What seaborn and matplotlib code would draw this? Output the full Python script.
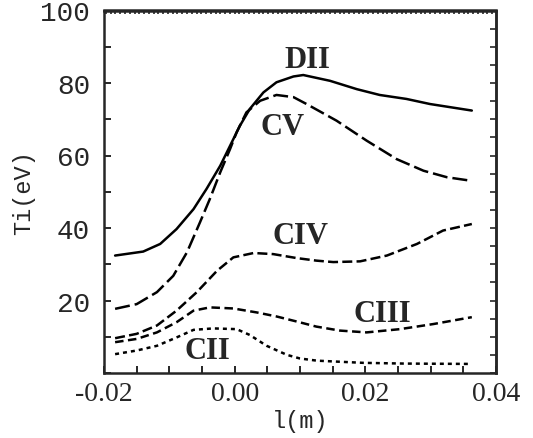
import numpy as np
import pandas as pd
import seaborn as sns
import matplotlib
matplotlib.use('Agg')
import matplotlib.pyplot as plt
from matplotlib.ticker import MultipleLocator, FixedLocator

# values, l in m, Ti in eV
l_DII = [-0.0183, -0.0140, -0.0114, -0.0089, -0.0063, -0.0043, -0.0022, -0.0007, 0.0008,
         0.0023, 0.0044, 0.0064, 0.0090, 0.0105, 0.0146, 0.0187, 0.0222, 0.0263, 0.0299, 0.0363]
ti_DII = [32.4, 33.5, 35.6, 39.7, 45.2, 50.8, 57.2, 62.7, 68.2,
          72.8, 77.4, 80.2, 81.8, 82.2, 80.6, 78.3, 76.7, 75.6, 74.2, 72.4]

l_CV = [-0.0183, -0.0150, -0.0119, -0.0094, -0.0073, -0.0053, -0.0038, -0.0022, -0.0007,
        0.0003, 0.0018, 0.0039, 0.0064, 0.0090, 0.0110, 0.0156, 0.0202, 0.0248, 0.0289, 0.0325, 0.0363]
ti_CV = [17.7, 19.0, 22.3, 26.8, 33.3, 41.6, 48.0, 55.4, 61.8,
         66.4, 71.9, 75.1, 76.7, 76.1, 74.2, 69.6, 64.1, 59.0, 55.8, 54.0, 53.0]

l_CIV = [-0.0183, -0.0150, -0.0119, -0.0089, -0.0058, -0.0027, -0.0002, 0.0029, 0.0059,
         0.0095, 0.0125, 0.0151, 0.0192, 0.0233, 0.0279, 0.0319, 0.0363]
ti_CIV = [9.6, 10.8, 13.1, 17.2, 22.3, 28.2, 31.9, 33.1, 32.8,
          31.7, 31.0, 30.6, 30.8, 32.4, 35.6, 39.3, 41.1]

l_CIII = [-0.0183, -0.0150, -0.0119, -0.0089, -0.0063, -0.0038, -0.0002, 0.0034, 0.0064,
          0.0095, 0.0125, 0.0161, 0.0202, 0.0253, 0.0304, 0.0363]
ti_CIII = [8.5, 9.4, 11.2, 14.0, 17.2, 18.1, 17.8, 16.7, 15.6,
           14.2, 12.8, 11.7, 11.2, 12.1, 13.5, 15.4]

l_CII = [-0.0183, -0.0150, -0.0119, -0.0089, -0.0063, -0.0033, 0.0003, 0.0023, 0.0049,
         0.0080, 0.0100, 0.0126, 0.0197, 0.0260, 0.0363]
ti_CII = [5.2, 6.2, 7.5, 9.8, 11.9, 12.3, 12.1, 10.5, 7.5,
          5.0, 4.0, 3.4, 2.8, 2.6, 2.5]

names = ['DII', 'CV', 'CIV', 'CIII', 'CII']
label_x = [0.0111, 0.0073, 0.0100, 0.0226, -0.0042]
label_y = [86.5, 68.0, 37.8, 16.3, 6.3]

sns.set_style('ticks')
plt.rcParams['font.family'] = ['Liberation Serif', 'DejaVu Serif']

fig, ax = plt.subplots(figsize=(5.33, 4.39), dpi=100)
fig.subplots_adjust(left=104 / 533, right=496 / 533, top=1 - 11.5 / 439, bottom=1 - 374 / 439)

series = [(l_DII, ti_DII), (l_CV, ti_CV), (l_CIV, ti_CIV), (l_CIII, ti_CIII), (l_CII, ti_CII)]
dashes = [None, (6, 2), (4, 1.7), (3.4, 1.8), (1.6, 1.6)]
for (xs, ys), d in zip(series, dashes):
    sns.lineplot(x=xs, y=ys, ax=ax, color='black', lw=1.8, sort=False)
    if d is not None:
        ax.lines[-1].set_dashes(d)

for name, x, y in zip(names, label_x, label_y):
    ax.text(x, y, name, ha='center', va='center', fontsize=22, fontweight='bold',
            family='Liberation Serif')

ax.set_xlim(-0.02, 0.04)
ax.set_ylim(0, 100)
ax.xaxis.set_major_locator(FixedLocator([-0.02, 0.0, 0.02, 0.04]))
ax.xaxis.set_minor_locator(MultipleLocator(0.005))
ax.yaxis.set_major_locator(FixedLocator([20, 40, 60, 80, 100]))
ax.yaxis.set_minor_locator(MultipleLocator(10))
ax.set_xticklabels(['-0.02', '0.00', '0.02', '0.04'], fontsize=20, family='Liberation Serif')
ax.set_yticklabels(['20', '40', '60', '80', '100'], fontsize=20, family='Liberation Mono')
ax.tick_params(which='both', direction='in', length=5, width=1.4, top=False, right=False)
ax.tick_params(axis='x', pad=6)
ax.tick_params(axis='y', pad=10)

# dense ticks along top, fine ticks along right
top = ax.secondary_xaxis('top')
top.xaxis.set_major_locator(MultipleLocator(0.00073))
top.tick_params(direction='in', length=3, width=1.2, labeltop=False)
right = ax.secondary_yaxis('right')
right.yaxis.set_major_locator(MultipleLocator(5))
right.tick_params(direction='in', length=4, width=1.2, labelright=False)
for a in (top, right):
    for s in a.spines.values():
        s.set_linewidth(1.8)

for s in ax.spines.values():
    s.set_linewidth(1.8)
    s.set_visible(True)

ax.set_xlabel('l(m)', fontsize=17, family='Liberation Mono', labelpad=2)
ax.set_ylabel('Ti(eV)', fontsize=17, family='Liberation Mono', labelpad=4)

fig.savefig('out.png', dpi=100)
